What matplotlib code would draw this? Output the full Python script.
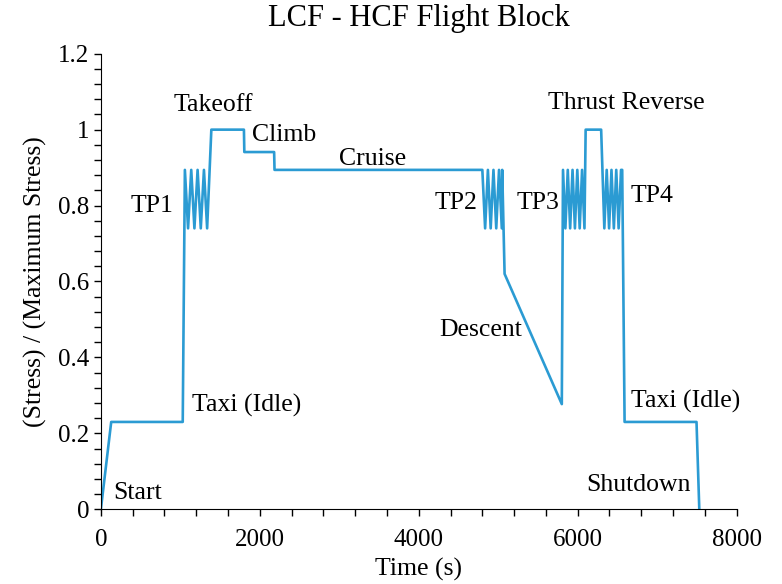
import matplotlib.pyplot as plt
from matplotlib.ticker import MultipleLocator

plt.rcParams['font.family'] = ['Liberation Serif', 'DejaVu Serif']

# flight block profile: time (s) and normalised stress
time_s = [0, 130, 1030,
          1057, 1097, 1137, 1177, 1217, 1257, 1297, 1337,
          1390, 1800, 1805, 2180, 2185,
          4800, 4835, 4870, 4905, 4940, 4975, 5010, 5045, 5050,
          5080, 5800,
          5815, 5845, 5875, 5905, 5935, 5965, 5995, 6025, 6055, 6085,
          6100, 6295, 6335, 6365, 6395, 6425, 6455, 6485, 6515, 6545, 6560,
          6590, 7495, 7530]
stress = [0, 0.23, 0.23,
          0.894, 0.74, 0.894, 0.74, 0.894, 0.74, 0.894, 0.74,
          1.0, 1.0, 0.941, 0.941, 0.894,
          0.894, 0.74, 0.894, 0.74, 0.894, 0.74, 0.894, 0.74, 0.894,
          0.62, 0.277,
          0.894, 0.74, 0.894, 0.74, 0.894, 0.74, 0.894, 0.74, 0.894, 0.74,
          1.0, 1.0, 0.74, 0.894, 0.74, 0.894, 0.74, 0.894, 0.74, 0.894, 0.894,
          0.23, 0.23, 0]

# phase labels: text, x, y, horizontal alignment
labels = [
    ("Takeoff", 1409, 1.066, 'center'),
    ("Climb", 1900, 0.985, 'left'),
    ("Cruise", 3420, 0.923, 'center'),
    ("TP1", 640, 0.80, 'center'),
    ("TP2", 4465, 0.807, 'center'),
    ("TP3", 5497, 0.807, 'center'),
    ("TP4", 6930, 0.826, 'center'),
    ("Thrust Reverse", 6616, 1.07, 'center'),
    ("Descent", 4780, 0.472, 'center'),
    ("Taxi (Idle)", 1145, 0.274, 'left'),
    ("Taxi (Idle)", 7358, 0.285, 'center'),
    ("Start", 150, 0.042, 'left'),
    ("Shutdown", 6767, 0.063, 'center'),
]

fig = plt.figure(figsize=(7.82, 5.84), dpi=100)
ax = fig.add_axes([0.129, 0.128, 0.813, 0.78])

ax.plot(time_s, stress, color='#2b9bd3', lw=1.9)

for txt, x, y, ha in labels:
    ax.text(x, y, txt, ha=ha, va='center', fontsize=18.5)

ax.set_xlim(0, 8000)
ax.set_ylim(0, 1.2)
ax.xaxis.set_major_locator(MultipleLocator(2000))
ax.xaxis.set_minor_locator(MultipleLocator(400))
ax.yaxis.set_major_locator(MultipleLocator(0.2))
ax.yaxis.set_minor_locator(MultipleLocator(0.04))
ax.set_yticks([0, 0.2, 0.4, 0.6, 0.8, 1.0, 1.2], ['0', '0.2', '0.4', '0.6', '0.8', '1', '1.2'])
ax.tick_params(which='both', direction='out', length=5, width=1, labelsize=18)
ax.tick_params(axis='x', pad=9)
ax.spines['top'].set_visible(False)
ax.spines['right'].set_visible(False)

ax.set_title("LCF - HCF Flight Block", fontsize=22, pad=20)
ax.set_xlabel("Time (s)", fontsize=18.5, labelpad=5)
ax.set_ylabel("(Stress) / (Maximum Stress)", fontsize=18.5, labelpad=8)

fig.savefig('out.png', dpi=100)
